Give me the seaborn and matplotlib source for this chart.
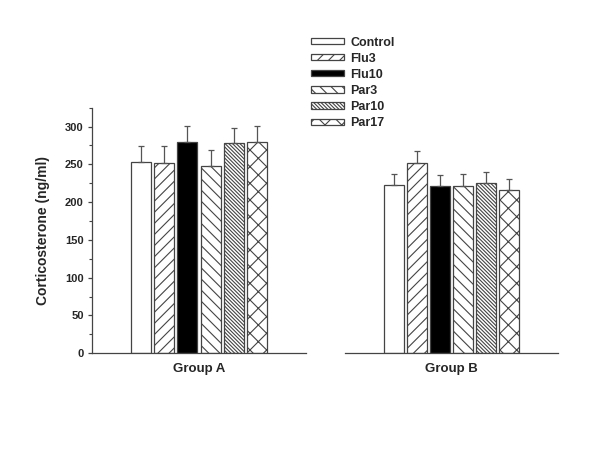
import seaborn as sns
import pandas as pd
import matplotlib.pyplot as plt
import matplotlib.patches as mpatches
from matplotlib.ticker import MultipleLocator

treatments = ['Control', 'Flu3', 'Flu10', 'Par3', 'Par10', 'Par17']
groups = ['Group A', 'Group B']
means_a = [253, 252, 280, 248, 278, 279]
errs_a = [21, 22, 21, 21, 20, 22]
means_b = [222, 252, 221, 221, 225, 216]
errs_b = [15, 15, 15, 16, 15, 15]

fills = ['white', 'white', 'black', 'white', 'white', 'white']
hatches = ['', '///', '', '\\\\\\', '\\' * 9, 'xx']
edge = '#444444'

sns.set_style('white')
plt.rcParams['font.family'] = ['Liberation Sans', 'DejaVu Sans']
plt.rcParams['font.weight'] = 'bold'
plt.rcParams['hatch.linewidth'] = 0.8
plt.rcParams['hatch.color'] = '#222222'

fig = plt.figure(figsize=(6, 4.63), dpi=100)
ax1 = fig.add_axes([0.1533, 0.237, 0.357, 0.5305])
ax2 = fig.add_axes([0.575, 0.237, 0.355, 0.5305])

for ax, grp, means, errs in [(ax1, groups[0], means_a, errs_a),
                             (ax2, groups[1], means_b, errs_b)]:
    df = pd.DataFrame({'group': grp, 'treatment': treatments, 'value': means})
    sns.barplot(df, x='group', y='value', hue='treatment', hue_order=treatments,
                palette=dict(zip(treatments, fills)), errorbar=None, gap=0.14,
                edgecolor=edge, linewidth=0.9, ax=ax, legend=False)
    xs = []
    for cont, h in zip(ax.containers, hatches):
        for bar in cont:
            bar.set_hatch(h)
            xs.append(bar.get_x() + bar.get_width() / 2)
    ax.errorbar(xs, means, yerr=[[0] * len(errs), errs], fmt='none',
                ecolor='#555555', elinewidth=0.9, capsize=2.2, capthick=0.9, zorder=1)
    ax.set_xlim(-0.614, 0.614)
    ax.set_ylim(0, 325)
    ax.set_xlabel('')
    ax.set_ylabel('')
    ax.tick_params(axis='x', length=0, pad=7, labelsize=9.5)
    for s in ['top', 'right']:
        ax.spines[s].set_visible(False)
    ax.spines['bottom'].set_color(edge)
    ax.spines['left'].set_color(edge)
    ax.spines['bottom'].set_linewidth(0.9)
    ax.spines['left'].set_linewidth(0.9)

ax1.yaxis.set_major_locator(MultipleLocator(50))
ax1.yaxis.set_minor_locator(MultipleLocator(25))
ax1.tick_params(axis='y', which='major', left=True, length=3, width=0.9, color=edge,
                labelsize=8, pad=3)
ax1.tick_params(axis='y', which='minor', left=True, length=2, width=0.8, color=edge)
ax1.set_ylabel('Corticosterone (ng/ml)', fontsize=10, fontweight='bold', labelpad=11)

ax2.spines['left'].set_visible(False)
ax2.set_yticks([])

handles = [mpatches.Patch(facecolor=f, edgecolor=edge, hatch=h, linewidth=0.9, label=t)
           for t, f, h in zip(treatments, fills, hatches)]
fig.legend(handles=handles, loc='upper left', bbox_to_anchor=(311 / 600, 1 - 36.5 / 463),
           frameon=False, fontsize=9, handlelength=2.6, handleheight=0.4,
           handletextpad=0.55, labelspacing=0.33, borderpad=0, borderaxespad=0)

fig.savefig('out.png', dpi=100)
